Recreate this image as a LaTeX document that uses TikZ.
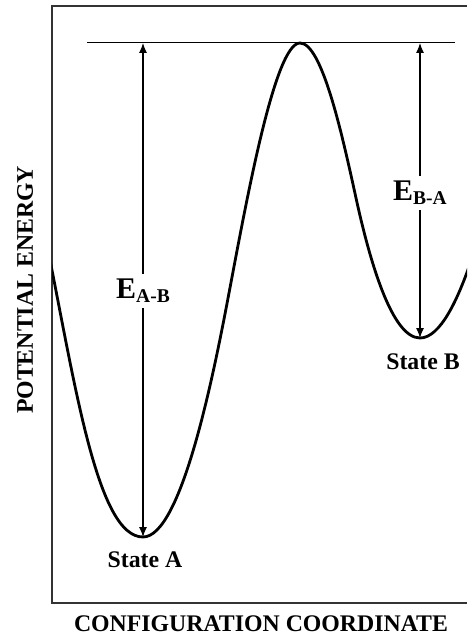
\documentclass[tikz,border=0pt]{standalone}
\usepackage{fontspec}
\setmainfont{Liberation Serif}
\usetikzlibrary{arrows.meta}

\newcommand{\elabel}[1]{{\fontsize{30}{32}\selectfont E}\raisebox{-4pt}{\fontsize{19.5}{21}\selectfont #1}}

\begin{document}
\begin{tikzpicture}[
    x=1pt, y=-1pt,
    frame/.style={draw=black!80, line width=1.5pt},
    level/.style={draw=black, line width=0.9pt},
    curve/.style={draw=black, line width=2.8pt, line cap=round},
    barrier/.style={{Latex[length=10pt,width=8pt]}-{Latex[length=10pt,width=8pt]}, line width=1.1pt},
    txt/.style={font=\bfseries\fontsize{23.8}{28}\selectfont, inner sep=2pt},
    elab/.style={font=\bfseries, fill=white, inner sep=5pt}
]
    \useasboundingbox (0,0) rectangle (467,636);

    \coordinate (minA) at (143,537);
    \coordinate (minB) at (420,338);
    \coordinate (topA) at (143,43);
    \coordinate (topB) at (420,43);
    \coordinate (peak) at (300,43);

    \draw [frame] (467,6) -- (52,6) -- (52,603) -- (467,603);
    \draw [level] (87,42) -- (455,42);

    \begin{scope}
        \clip (52,6) rectangle (467,603);
        \draw [curve] (48,250) .. controls (76,390) and (98,537) .. (minA)
            .. controls (181,537) and (213,378) .. (229,293)
            .. controls (247,198) and (275,43) .. (peak)
            .. controls (322,43) and (342,134) .. (356,198)
            .. controls (370,262) and (392,338) .. (minB)
            .. controls (440,338) and (458,300) .. (472,258);
    \end{scope}

    \draw [barrier] (minA) -- (topA);
    \draw [barrier] (minB) -- (topB);

    \node (eab) [elab] at (143,291) {\elabel{A-B}};
    \node (eba) [elab] at (420,193) {\elabel{B-A}};

    \node (stateA) [txt] at (145,560) {State A};
    \node (stateB) [txt] at (423,362) {State B};
    \node (xlab) [txt] at (261,624) {CONFIGURATION COORDINATE};
    \node (ylab) [txt, rotate=90] at (25,290) {POTENTIAL ENERGY};
\end{tikzpicture}
\end{document}
